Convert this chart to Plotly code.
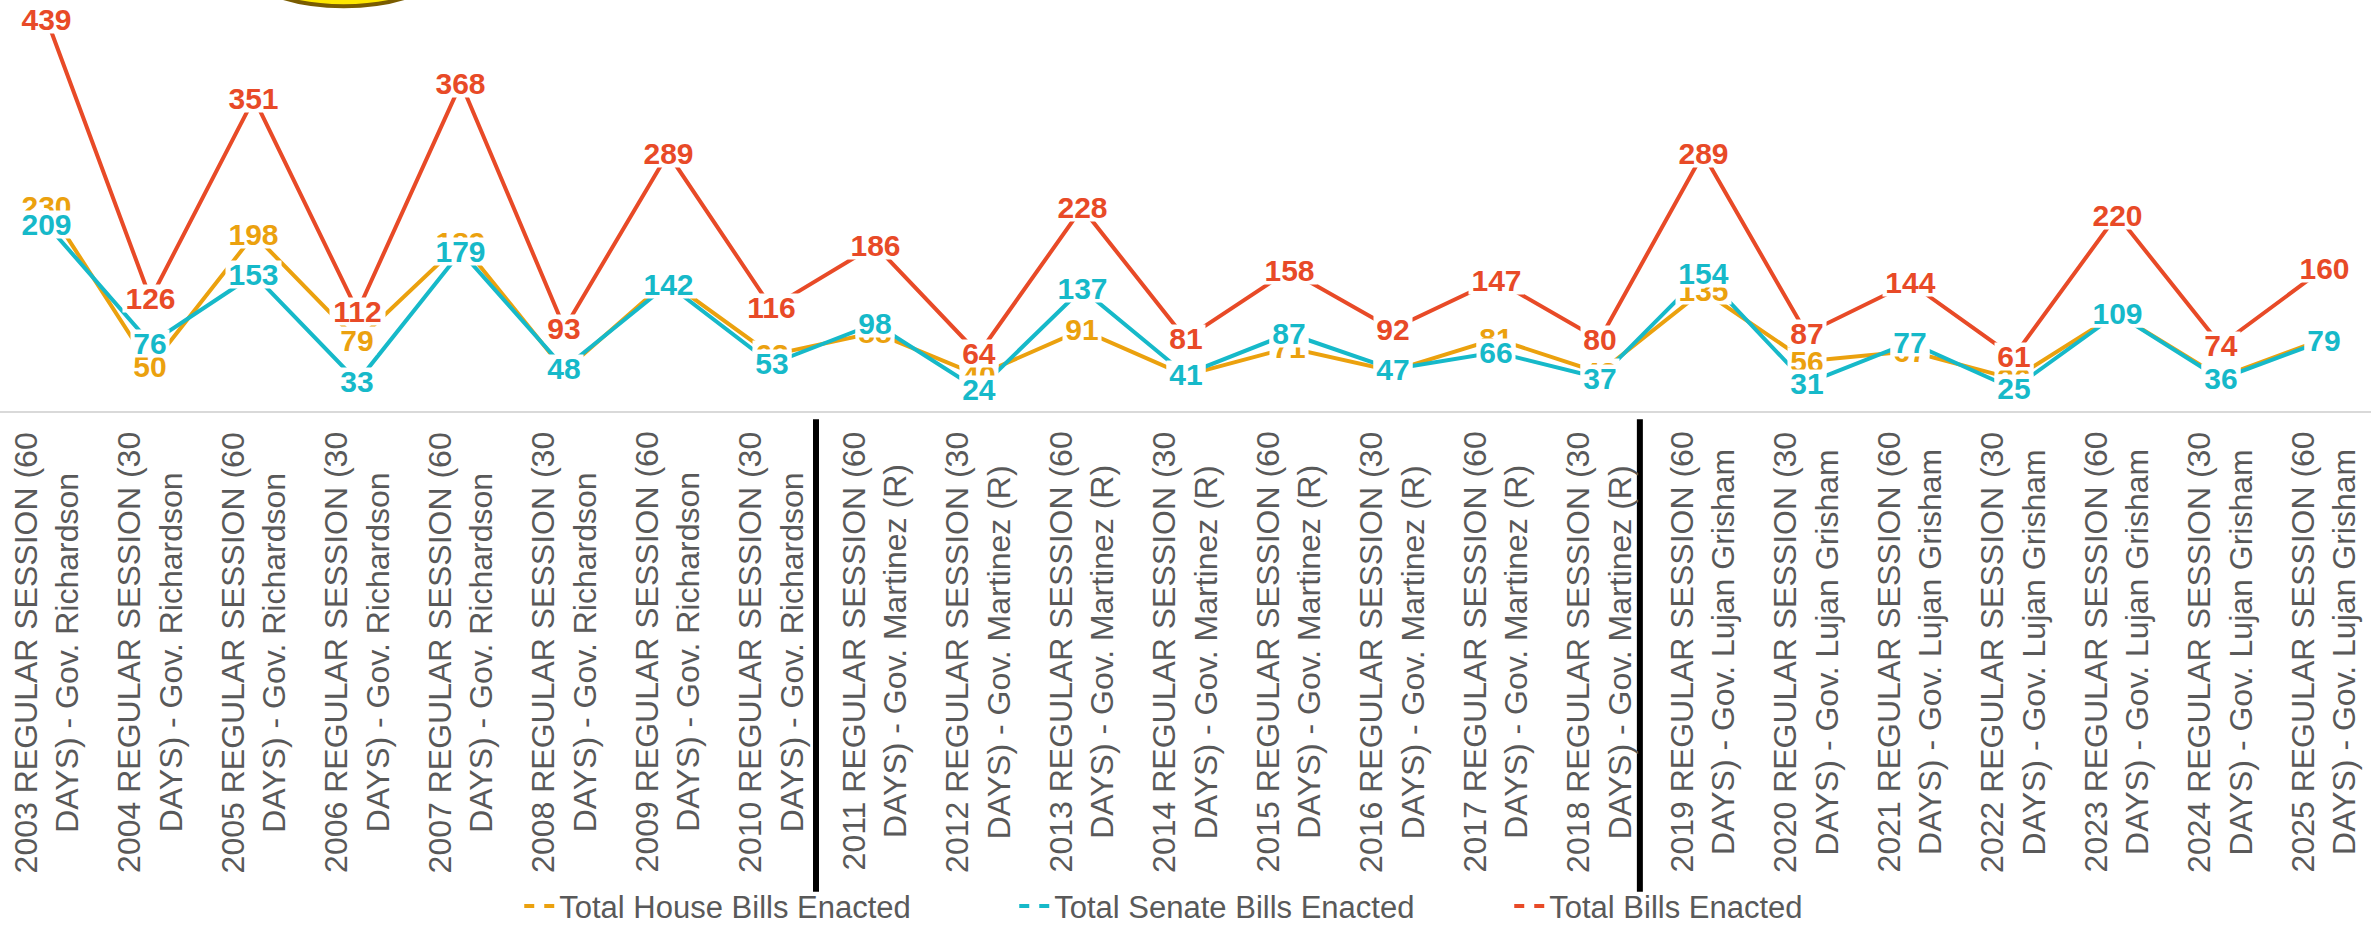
import plotly.graph_objects as go

sessions = [
    "2003 REGULAR SESSION (60<br>DAYS) - Gov. Richardson",
    "2004 REGULAR SESSION (30<br>DAYS) - Gov. Richardson",
    "2005 REGULAR SESSION (60<br>DAYS) - Gov. Richardson",
    "2006 REGULAR SESSION (30<br>DAYS) - Gov. Richardson",
    "2007 REGULAR SESSION (60<br>DAYS) - Gov. Richardson",
    "2008 REGULAR SESSION (30<br>DAYS) - Gov. Richardson",
    "2009 REGULAR SESSION (60<br>DAYS) - Gov. Richardson",
    "2010 REGULAR SESSION (30<br>DAYS) - Gov. Richardson",
    "2011 REGULAR SESSION (60<br>DAYS) - Gov. Martinez (R)",
    "2012 REGULAR SESSION (30<br>DAYS) - Gov. Martinez (R)",
    "2013 REGULAR SESSION (60<br>DAYS) - Gov. Martinez (R)",
    "2014 REGULAR SESSION (30<br>DAYS) - Gov. Martinez (R)",
    "2015 REGULAR SESSION (60<br>DAYS) - Gov. Martinez (R)",
    "2016 REGULAR SESSION (30<br>DAYS) - Gov. Martinez (R)",
    "2017 REGULAR SESSION (60<br>DAYS) - Gov. Martinez (R)",
    "2018 REGULAR SESSION (30<br>DAYS) - Gov. Martinez (R)",
    "2019 REGULAR SESSION (60<br>DAYS) - Gov. Lujan Grisham",
    "2020 REGULAR SESSION (30<br>DAYS) - Gov. Lujan Grisham",
    "2021 REGULAR SESSION (60<br>DAYS) - Gov. Lujan Grisham",
    "2022 REGULAR SESSION (30<br>DAYS) - Gov. Lujan Grisham",
    "2023 REGULAR SESSION (60<br>DAYS) - Gov. Lujan Grisham",
    "2024 REGULAR SESSION (30<br>DAYS) - Gov. Lujan Grisham",
    "2025 REGULAR SESSION (60<br>DAYS) - Gov. Lujan Grisham",
]

house_bills = [230, 50, 198, 79, 189, 45, 147, 63, 88, 40, 91, 40,
               71, 45, 81, 43, 135, 56, 67, 36, 109, 38, 81]
senate_bills = [209, 76, 153, 33, 179, 48, 142, 53, 98, 24, 137, 41,
                87, 47, 66, 37, 154, 31, 77, 25, 109, 36, 79]
total_bills = [439, 126, 351, 112, 368, 93, 289, 116, 186, 64, 228, 81,
               158, 92, 147, 80, 289, 87, 144, 61, 220, 74, 160]

series = [
    ("Total House Bills Enacted", house_bills, "#EBA10E"),
    ("Total Senate Bills Enacted", senate_bills, "#16B9C9"),
    ("Total Bills Enacted", total_bills, "#E84A27"),
]

FONT = "Liberation Sans, Arial, sans-serif"
GREY = "#595959"

fig = go.Figure()
annotations = []

for name, values, color in series:
    fig.add_trace(go.Scatter(x=sessions, y=values, mode="lines", name=name,
                             line=dict(color=color, width=4), showlegend=False,
                             hoverinfo="skip"))
    # legend entry drawn with a dashed sample like the original
    fig.add_trace(go.Scatter(x=[None], y=[None], mode="lines", name=name,
                             line=dict(color=color, width=4, dash="10px,10px")))

# data labels: centred on the points, a tight white box hides the line behind
for name, values, color in series:
    for s, v in zip(sessions, values):
        annotations.append(dict(x=s, y=v, xref="x", yref="y", text=str(v),
                                showarrow=False, xanchor="center", yanchor="middle",
                                bgcolor="white", borderpad=0,
                                width=len(str(v)) * 17 + 4, height=27, valign="middle",
                                font=dict(family=FONT, size=30, color=color, weight="bold")))

# category labels, rotated with centred lines
for s in sessions:
    annotations.append(dict(x=s, y=-0.046, xref="x", yref="paper", text=s,
                            showarrow=False, textangle=-90, align="center",
                            xanchor="center", yanchor="top",
                            font=dict(family=FONT, size=32, color=GREY)))

shapes = [
    # governor separators
    dict(type="line", xref="x", yref="paper", x0=7.43, x1=7.43, y0=-0.02, y1=-1.17,
         line=dict(color="black", width=6)),
    dict(type="line", xref="x", yref="paper", x0=15.39, x1=15.39, y0=-0.02, y1=-1.17,
         line=dict(color="black", width=6)),
    # bottom of the title badge, cropped at the top
    dict(type="circle", xref="paper", yref="paper", x0=0.103, x1=0.187, y0=0.985, y1=1.18,
         fillcolor="#FFE800", line=dict(color="#7A5C00", width=4)),
]

fig.update_layout(
    width=2371, height=927,
    margin=dict(l=0, r=0, t=0, b=516, autoexpand=False),
    paper_bgcolor="white", plot_bgcolor="white",
    font=dict(family=FONT, color=GREY),
    xaxis=dict(type="category", range=[-0.454, 22.454], showticklabels=False,
               showgrid=False, zeroline=False, showline=True,
               linecolor="#D9D9D9", linewidth=2, ticks=""),
    yaxis=dict(range=[0, 461.4], visible=False),
    legend=dict(orientation="h", x=0.219, xanchor="left", y=-1.205, yanchor="middle",
                entrywidth=450, font=dict(family=FONT, size=31, color=GREY),
                bgcolor="rgba(0,0,0,0)"),
    annotations=annotations,
    shapes=shapes,
)

fig.write_html("out.html", config={"displayModeBar": False},
               post_script="document.body.style.margin='0';")
